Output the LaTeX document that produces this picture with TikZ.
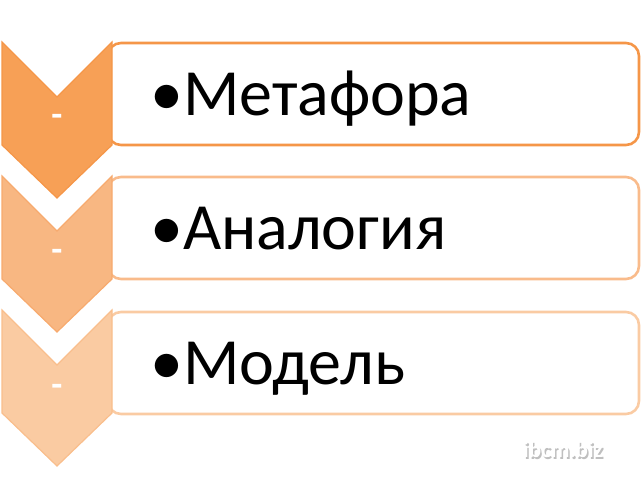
\documentclass[tikz,border=0pt]{standalone}
\usepackage{fontspec}
\setmainfont{Carlito}
\usepackage{tikz}
\definecolor{chevA}{RGB}{247,160,86}
\definecolor{chevB}{RGB}{248,183,130}
\definecolor{chevC}{RGB}{250,203,162}
\definecolor{lineA}{RGB}{245,150,72}
\definecolor{lineB}{RGB}{247,170,110}
\definecolor{lineC}{RGB}{249,190,140}

\begin{document}
\begin{tikzpicture}[x=1pt,y=-1pt,
    box/.style={shape=rectangle, rounded corners=13pt, line width=2.6pt, fill=white,
      minimum width=531pt, minimum height=102pt, inner sep=0pt},
    chev/.style={line width=1.2pt, line join=miter},
    item/.style={anchor=base west, inner sep=0pt, font=\fontsize{66}{66}\selectfont},
    dashmark/.style={text=white, inner sep=0pt, font=\bfseries\fontsize{36}{36}\selectfont}]
    \useasboundingbox (0,0) rectangle (644,500);

    % boxes behind the chevrons
    \node[box, draw=lineA] (box1) at (373.5,94) {};
    \node[box, draw=lineB!80!white] (box2) at (373.5,228) {};
    \node[box, draw=lineC!80!white] (box3) at (373.5,363) {};

    % chevrons
    \draw[chev, draw=lineA, fill=chevA] (2,42) -- (57,97) -- (112,42) -- (112,145) -- (57,198) -- (2,145) -- cycle;
    \draw[chev, draw=lineB, fill=chevB] (2,176) -- (57,231) -- (112,176) -- (112,279) -- (57,332) -- (2,279) -- cycle;
    \draw[chev, draw=lineC, fill=chevC] (2,310) -- (57,365) -- (112,310) -- (112,413) -- (57,466) -- (2,413) -- cycle;

    \node[dashmark] (d1) at (57,120) {-};
    \node[dashmark] (d2) at (57,255) {-};
    \node[dashmark] (d3) at (57,390) {-};

    % texts
    \node[item] (t1) at (150,115) {•Метафора};
    \node[item] (t2) at (150,249) {•Аналогия};
    \node[item] (t3) at (150,384) {•Модель};

    % watermark
    \node[text=black!25, font=\bfseries\fontsize{23}{23}\selectfont] (wm0) at (564.5,451.5) {ibcm.biz};
    \node[text=white, font=\bfseries\fontsize{23}{23}\selectfont] (wm) at (563,450) {ibcm.biz};
  \end{tikzpicture}
\end{document}
